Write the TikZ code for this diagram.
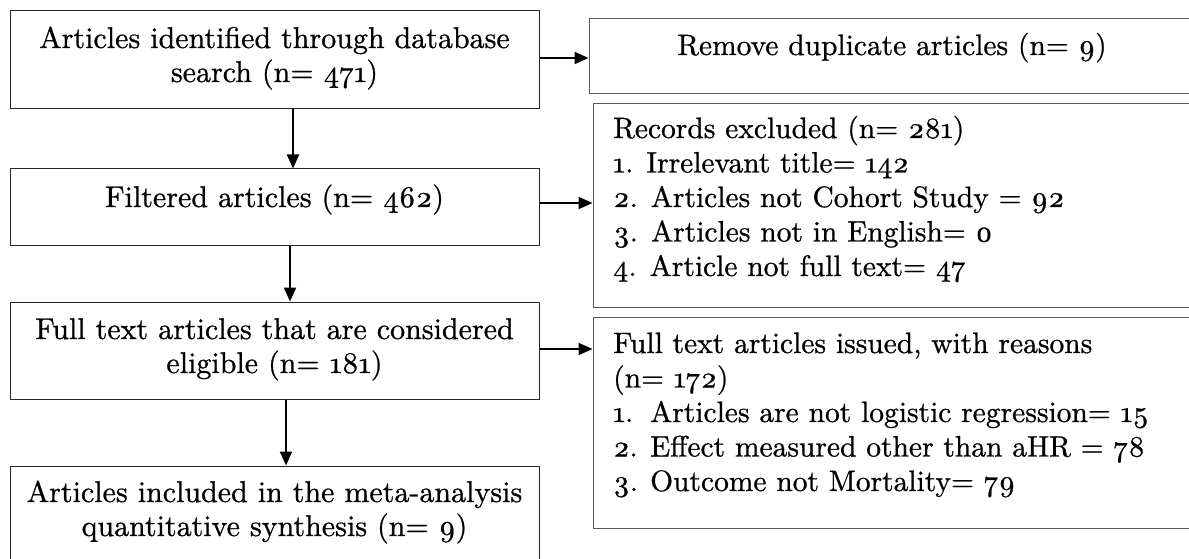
\documentclass[tikz,border=0pt]{standalone}
\usepackage{fontspec}
\usetikzlibrary{arrows.meta}
% text face: Latin Modern, 10pt design, slightly emboldened, old-style figures
\newfontfamily\boxfont{lmroman10-regular.otf}[FakeBold=0.8, Numbers=OldStyle]
\tikzset{
  flowbox/.style={draw=black!85, line width=1pt, inner sep=0pt, rectangle},
  sidebox/.style={draw=black!65, line width=1pt, inner sep=0pt, rectangle},
  ctext/.style={inner sep=0pt, anchor=base, font=\boxfont\fontsize{30}{34}\selectfont},
  rtext/.style={inner sep=0pt, anchor=base, font=\boxfont\fontsize{29.5}{34.5}\selectfont},
  ltext/.style={inner sep=0pt, anchor=base west, font=\boxfont\fontsize{29.5}{34.5}\selectfont},
  flowarrow/.style={line width=2pt, -{Triangle[length=14pt,width=12pt]}},
}
\begin{document}
\begin{tikzpicture}[x=1pt, y=-1pt]
\useasboundingbox (0,0) rectangle (1189,559);
\clip (0,0) rectangle (1189,559);

% main column
\node[flowbox, minimum width=529pt, minimum height=98pt]  (A) at (274.5,60)    {};
\node[flowbox, minimum width=529pt, minimum height=76pt]  (B) at (274.5,207)   {};
\node[flowbox, minimum width=529pt, minimum height=97pt]  (C) at (274.5,350.5) {};
\node[flowbox, minimum width=529pt, minimum height=128pt] (D) at (274.5,530)   {};

% side column
\node[sidebox, minimum width=606pt, minimum height=75pt]  (R1) at (892,56.5)  {};
\node[sidebox, minimum width=602pt, minimum height=203pt] (R2) at (894,205.5) {};
\node[sidebox, minimum width=602pt, minimum height=211pt] (R3) at (894,422.5) {};

% texts
\node[ctext] (At) at (274.5,48) {\begin{tabular}[t]{@{}c@{}}Articles identified through database\\search (n= 471)\end{tabular}};
\node[ctext] (Bt) at (274.5,207) {Filtered articles (n= 462)};
\node[ctext] (Ct) at (274.5,339) {\begin{tabular}[t]{@{}c@{}}Full text articles that are considered\\eligible (n= 181)\end{tabular}};
\node[ctext] (Dt) at (274.5,502) {\begin{tabular}[t]{@{}c@{}}Articles included in the meta-analysis\\quantitative synthesis (n= 9)\end{tabular}};

\node[rtext] (R1t) at (892,55) {Remove duplicate articles (n= 9)};
\node[ltext] (R2t) at (613,138) {\begin{tabular}[t]{@{}l@{}}Records excluded (n= 281)\\
1. Irrelevant title= 142\\
2. Articles not Cohort Study = 92\\
3. Articles not in English= 0\\
4. Article not full text= 47\end{tabular}};
\node[ltext] (R3t) at (613,353) {\begin{tabular}[t]{@{}l@{}}Full text articles issued, with reasons\\
(n= 172)\\
\makebox[37pt][l]{1.}Articles are not logistic regression= 15\\
\makebox[37pt][l]{2.}Effect measured other than aHR = 78\\
\makebox[37pt][l]{3.}Outcome not Mortality= 79\end{tabular}};

% connectors
\draw[flowarrow] ([xshift=18.5pt]A.south) -- ([xshift=18.5pt]A.south |- B.north);
\draw[flowarrow] ([xshift=15.5pt]B.south) -- ([xshift=15.5pt]B.south |- C.north);
\draw[flowarrow] ([xshift=11.5pt]C.south) -- ([xshift=11.5pt]C.south |- D.north);

\draw[flowarrow] ([yshift=2pt]A.east) -- ([yshift=2pt]A.east -| R1.west);
\draw[flowarrow] ([yshift=4pt]B.east) -- ([yshift=4pt]B.east -| R2.west);
\draw[flowarrow] ([yshift=1.5pt]C.east) -- ([yshift=1.5pt]C.east -| R3.west);
\end{tikzpicture}
\end{document}
